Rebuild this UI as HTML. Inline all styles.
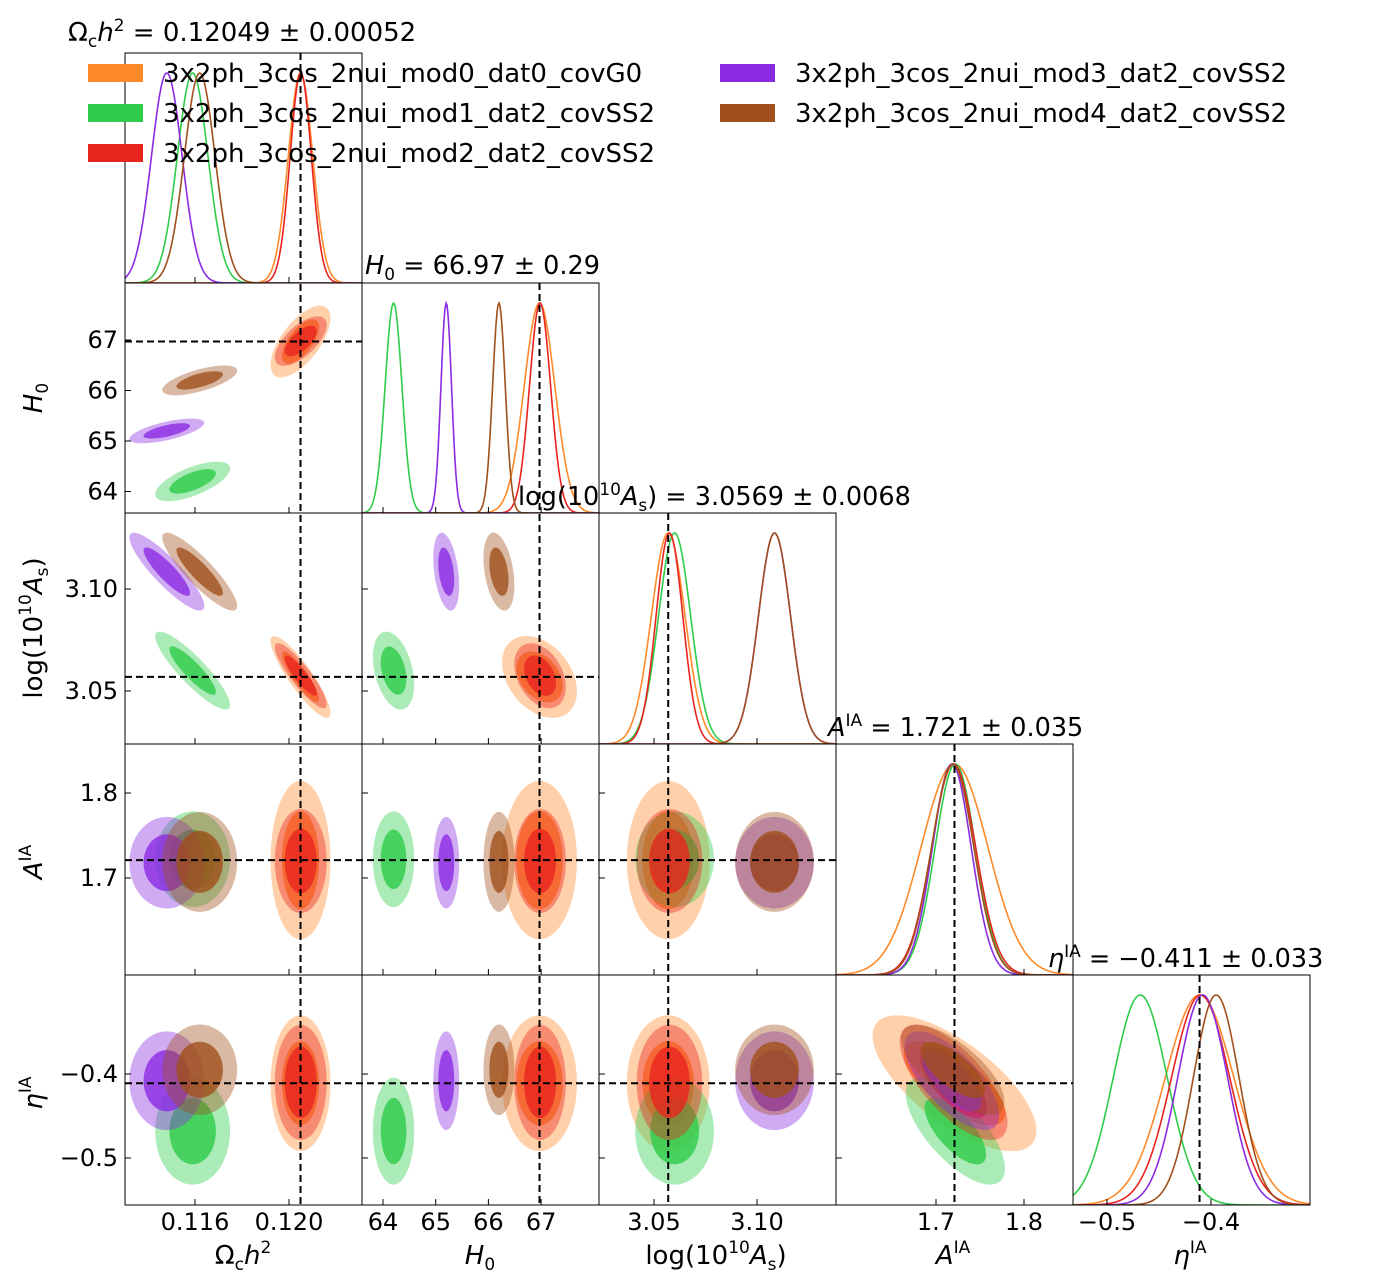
<!DOCTYPE html>
<html><head><meta charset="utf-8"><style>
body{margin:0;background:#fff;}
svg{display:block;font-family:"DejaVu Sans","Liberation Sans",sans-serif;}
</style></head><body>
<svg id="chart" width="1374" height="1280" viewBox="0 0 1374 1280" xmlns="http://www.w3.org/2000/svg"></svg>
<script>
// ---- data ----
const modelNames = ["3x2ph_3cos_2nui_mod0_dat0_covG0","3x2ph_3cos_2nui_mod1_dat2_covSS2","3x2ph_3cos_2nui_mod2_dat2_covSS2","3x2ph_3cos_2nui_mod3_dat2_covSS2","3x2ph_3cos_2nui_mod4_dat2_covSS2"];
const modelColors = ["#ff8a2a","#2ecc4a","#e8241f","#8a2be2","#a0501c"];
const meanOmega = [0.12049,0.1159,0.1205,0.1148,0.1162];
const meanH0 = [66.97,64.2,66.98,65.2,66.2];
const meanAs = [3.0569,3.0600,3.0575,3.1085,3.1085];
const meanAIA = [1.721,1.722,1.720,1.718,1.719];
const meanEta = [-0.411,-0.468,-0.410,-0.408,-0.395];
const sigOmega = [0.00052,0.00065,0.00045,0.00065,0.00065];
const sigH0 = [0.29,0.16,0.2,0.1,0.12];
const sigAs = [0.0082,0.0078,0.0065,0.0078,0.0078];
const sigAIA = [0.038,0.023,0.025,0.022,0.024];
const sigEta = [0.033,0.026,0.028,0.024,0.022];
const truthValues = [0.12049,66.97,3.0569,1.721,-0.411];
const corrPairs = {"0-1":0.65,"0-2":-0.88,"0-3":0,"0-4":0,"1-2":-0.35,"1-3":0,"1-4":0,"2-3":0,"2-4":0,"3-4":-0.7};
const tickOmega=[0.116,0.120], tickH0=[64,65,66,67], tickAs=[3.05,3.10], tickAIA=[1.7,1.8], tickEta=[-0.5,-0.4];
const tickLabOmega=["0.116","0.120"], tickLabH0=["64","65","66","67"], tickLabAs=["3.05","3.10"], tickLabAIA=["1.7","1.8"], tickLabEta=["\u22120.5","\u22120.4"];

const means=[meanOmega,meanH0,meanAs,meanAIA,meanEta];
const sigs=[sigOmega,sigH0,sigAs,sigAIA,sigEta];
const ticks=[tickOmega,tickH0,tickAs,tickAIA,tickEta];
const tickLabs=[tickLabOmega,tickLabH0,tickLabAs,tickLabAIA,tickLabEta];

const colX=[125,362,599,836,1073], W=237;
const rowY=[53,283,513,744,975], H=[230,230,231,231,230];
const xAxis=[v=>195+(v-0.116)*23500, v=>383+(v-64)*52.7, v=>654+(v-3.05)*2060, v=>936+(v-1.7)*880, v=>1211+(v+0.4)*1040];
const xScale=[23500,52.7,2060,880,1040];
const yAxis=[null, v=>340-(v-67)*50.5, v=>589-(v-3.10)*2040, v=>793-(v-1.8)*850, v=>1074-(v+0.4)*840];
const yScale=[0,-50.5,-2040,-850,-840];

const svg=document.getElementById('chart');
const NS="http://www.w3.org/2000/svg";
function mk(tag,attrs,parent){const e=document.createElementNS(NS,tag);for(const k in attrs)e.setAttribute(k,attrs[k]);(parent||svg).appendChild(e);return e;}
const defs=mk('defs',{});
for(let c=0;c<5;c++)for(let r=c;r<5;r++){
  const cp=mk('clipPath',{id:`cp${c}${r}`},defs);
  mk('rect',{x:colX[c],y:rowY[r],width:W,height:H[r]},cp);
}

for(let c=0;c<5;c++)for(let r=c+1;r<5;r++){
  const g=mk('g',{'clip-path':`url(#cp${c}${r})`});
  
  
  const rho=corrPairs[`${c}-${r}`];
  for(let m=0;m<5;m++){
    const sx=sigs[c][m]*xScale[c], sy=sigs[r][m]*yScale[r];
    const a=sx*sx, d=sy*sy, b=rho*sx*sy;
    const tr=(a+d)/2, det=Math.sqrt(((a-d)/2)**2+b*b);
    const l1=tr+det, l2=Math.max(tr-det,0.01);
    const ang=Math.atan2(l1-a,b)*180/Math.PI;
    const ang2=(Math.abs(b)<1e-9)?(a>=d?0:90):ang;
    const cx=xAxis[c](means[c][m]), cy=yAxis[r](means[r][m]);
    [[2.45,0.4],[1.52,0.8]].forEach(([k,op],li)=>{
      const e=mk('ellipse',{cx:cx,cy:cy,rx:k*Math.sqrt(l1),ry:k*Math.sqrt(l2),transform:`rotate(${ang2} ${cx} ${cy})`,fill:modelColors[m],'fill-opacity':op},g);
      
      
    });
  }
}

for(let c=0;c<5;c++){
  const g=mk('g',{'clip-path':`url(#cp${c}${c})`});
  
  
  const bottom=rowY[c]+H[c], top=rowY[c]+20;
  for(let m=0;m<5;m++){
    let d='';
    for(let px=colX[c];px<=colX[c]+W;px+=1){
      const v=means[c][m]+(px-xAxis[c](means[c][m]))/xScale[c];
      const z=(v-means[c][m])/sigs[c][m];
      const y=bottom-(bottom-top)*Math.exp(-0.5*z*z);
      d+=(d?'L':'M')+px+','+y.toFixed(2);
    }
    const p=mk('path',{d:d,fill:'none',stroke:modelColors[m],'stroke-width':1.6},g);
    
    
  }
}

for(let c=0;c<5;c++){
  const x=xAxis[c](truthValues[c]);
  const l=mk('line',{x1:x,x2:x,y1:rowY[c],y2:1205,stroke:'#000','stroke-width':2,'stroke-dasharray':'7,4'});
  
  
}
for(let r=1;r<5;r++){
  const y=yAxis[r](truthValues[r]);
  const l=mk('line',{x1:125,x2:colX[r],y1:y,y2:y,stroke:'#000','stroke-width':2,'stroke-dasharray':'7,4'});
  
  
}

for(let c=0;c<5;c++)for(let r=c;r<5;r++){
  const f=mk('rect',{x:colX[c],y:rowY[r],width:W,height:H[r],fill:'none',stroke:'#000','stroke-width':1});
  
  
  const b=rowY[r]+H[r];
  ticks[c].forEach((t,i)=>{
    const x=xAxis[c](t);
    mk('line',{x1:x,x2:x,y1:b,y2:b-6,stroke:'#000','stroke-width':1});
    if(r===4){
      const tx=mk('text',{x:x,y:1230,'font-size':24,'text-anchor':'middle'});
      tx.textContent=tickLabs[c][i];
      
      
    }
  });
  if(r>c){
    ticks[r].forEach((t,i)=>{
      const y=yAxis[r](t);
      mk('line',{x1:colX[c],x2:colX[c]+6,y1:y,y2:y,stroke:'#000','stroke-width':1});
      if(c===0){
        const tx=mk('text',{x:118,y:y+8,'font-size':24,'text-anchor':'end'});
        tx.textContent=tickLabs[r][i];
        
        
      }
    });
  }
}

const extra=`
<g font-size="25.5">
<text x="68" y="41" font-size="26">Ω<tspan font-size="17" dy="6">c</tspan><tspan dy="-6" font-style="italic">h</tspan><tspan font-size="17" dy="-10">2</tspan><tspan dy="10"> = 0.12049 ± 0.00052</tspan></text>
<text x="365" y="274"><tspan font-style="italic">H</tspan><tspan font-size="17" dy="6">0</tspan><tspan dy="-6"> = 66.97 ± 0.29</tspan></text>
<text x="518" y="505">log(10<tspan font-size="17" dy="-10">10</tspan><tspan dy="10" font-style="italic">A</tspan><tspan font-size="17" dy="6">s</tspan><tspan dy="-6">) = 3.0569 ± 0.0068</tspan></text>
<text x="828" y="736"><tspan font-style="italic">A</tspan><tspan font-size="17" dy="-10">IA</tspan><tspan dy="10"> = 1.721 ± 0.035</tspan></text>
<text x="1048" y="967"><tspan font-style="italic">η</tspan><tspan font-size="17" dy="-10">IA</tspan><tspan dy="10"> = −0.411 ± 0.033</tspan></text>
</g>
<g font-size="26" text-anchor="middle">
<text x="243" y="1264">Ω<tspan font-size="17" dy="6">c</tspan><tspan dy="-6" font-style="italic">h</tspan><tspan font-size="17" dy="-11">2</tspan></text>
<text x="480" y="1264"><tspan font-style="italic">H</tspan><tspan font-size="17" dy="6">0</tspan></text>
<text x="716" y="1264">log(10<tspan font-size="17" dy="-11">10</tspan><tspan dy="11" font-style="italic">A</tspan><tspan font-size="17" dy="6">s</tspan><tspan dy="-6">)</tspan></text>
<text x="953" y="1264"><tspan font-style="italic">A</tspan><tspan font-size="17" dy="-11">IA</tspan></text>
<text x="1190" y="1264"><tspan font-style="italic">η</tspan><tspan font-size="17" dy="-11">IA</tspan></text>
<text transform="translate(42,398) rotate(-90)"><tspan font-style="italic">H</tspan><tspan font-size="17" dy="6">0</tspan></text>
<text transform="translate(42,628) rotate(-90)">log(10<tspan font-size="17" dy="-11">10</tspan><tspan dy="11" font-style="italic">A</tspan><tspan font-size="17" dy="6">s</tspan><tspan dy="-6">)</tspan></text>
<text transform="translate(42,862) rotate(-90)"><tspan font-style="italic">A</tspan><tspan font-size="17" dy="-11">IA</tspan></text>
<text transform="translate(42,1093) rotate(-90)"><tspan font-style="italic">η</tspan><tspan font-size="17" dy="-11">IA</tspan></text>
</g>`;
svg.insertAdjacentHTML('beforeend',extra);

const legendPos=[[88,73],[88,113],[88,153],[720,73],[720,113]];
const lg=mk('g',{'font-size':26});


modelNames.forEach((n,i)=>{
  const [x,y]=legendPos[i];
  const r=mk('rect',{x:x,y:y-9,width:55,height:18,fill:modelColors[i]},lg);
  
  
  const t=mk('text',{x:x+75,y:y+9},lg);
  t.textContent=n;
  
  
});
</script>
</body></html>
